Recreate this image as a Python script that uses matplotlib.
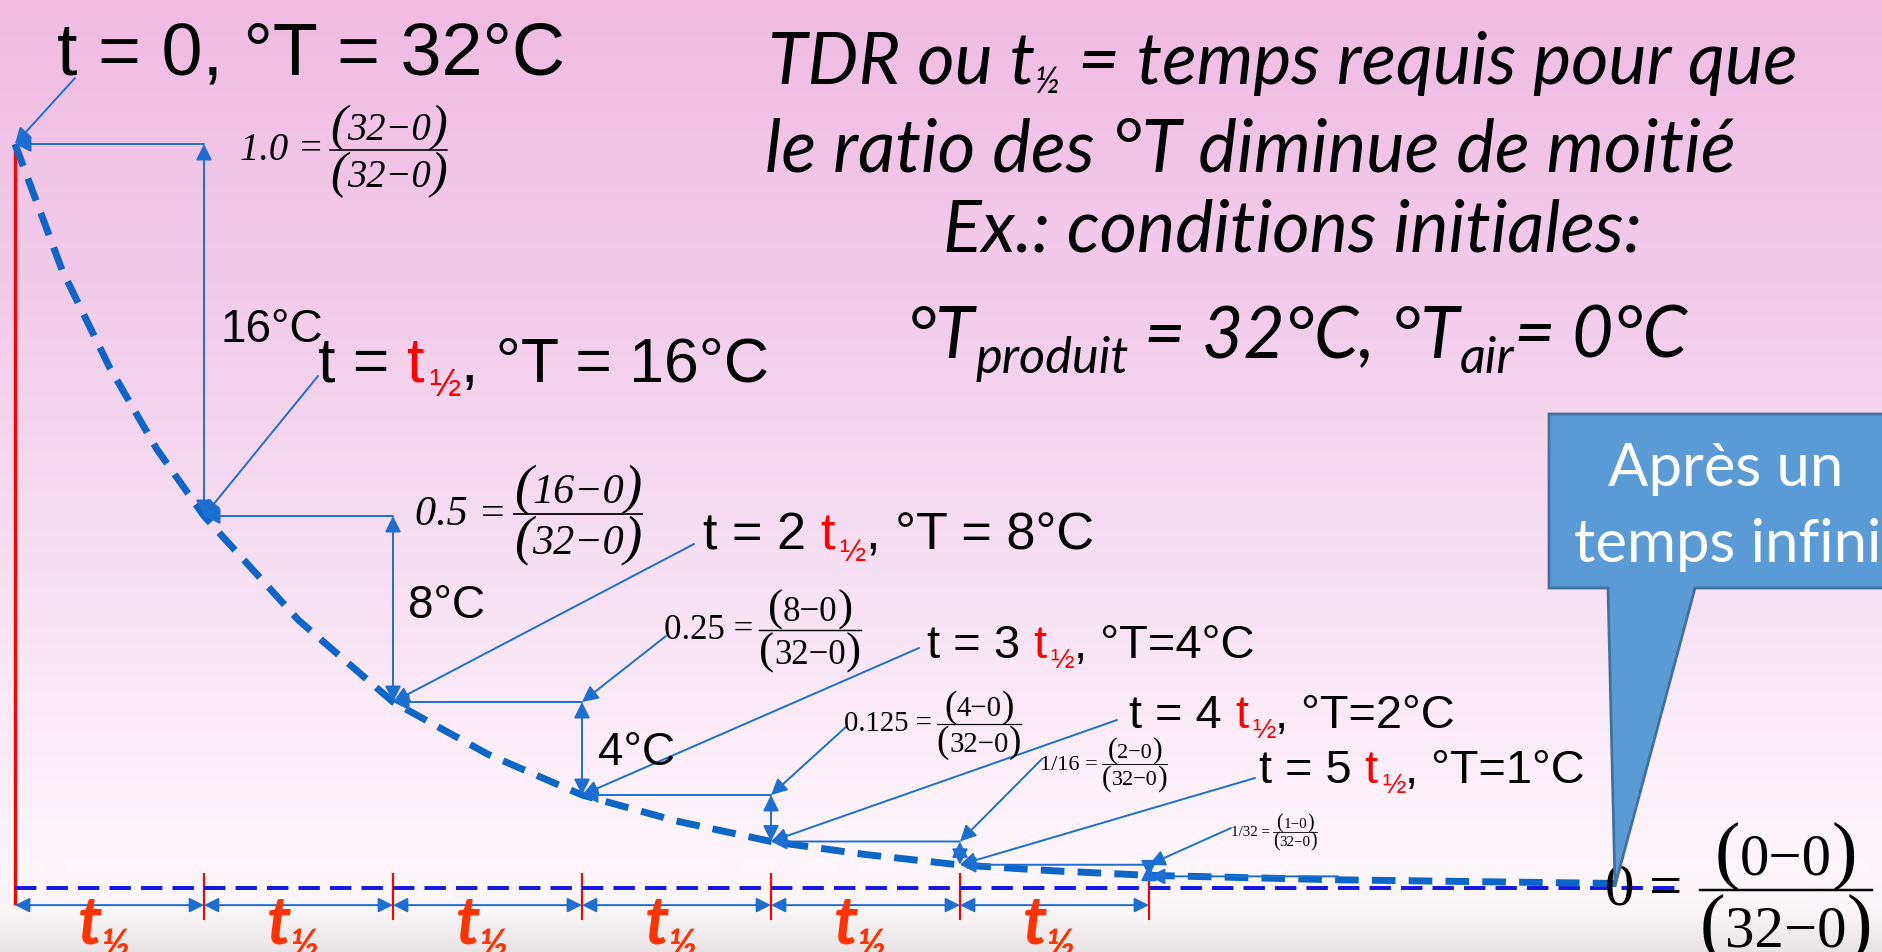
import numpy as np
import matplotlib
matplotlib.use('Agg')
import matplotlib.pyplot as plt
from matplotlib.patches import Polygon
from matplotlib.lines import Line2D
from matplotlib.transforms import IdentityTransform

W, H = 1883, 952

# ratio (T - Tair) / (T0 - Tair) after each half-life
steps = [0, 1, 2, 3, 4, 5, 6]
ratios = [1.0, 0.5, 0.25, 0.125, 1 / 16, 1 / 32, 1 / 64]
temps = [32, 16, 8, 4, 2, 1]
drops = ['16°C', '8°C', '4°C']
ratio_names = ['1.0', '0.5', '0.25', '0.125', '1/16', '1/32']

# dashed cooling curve, read along its length
curve_t = [0, 0.25, 0.5, 0.75, 1, 1.5, 2, 2.5, 3, 3.5, 4, 4.5, 5, 5.5, 6, 7, 8.5]
curve_v = [1.0, 0.83, 0.70, 0.59, 0.5, 0.36, 0.25, 0.18, 0.125, 0.09, 0.0625,
           0.045, 0.031, 0.023, 0.017, 0.011, 0.006]
air_line_end = 8.8

BLUE = '#1c6fd0'
RED = '#ff0000'
ORANGE = '#ff3300'
SANS = ['Liberation Sans', 'DejaVu Sans']
SERIF = ['Liberation Serif', 'DejaVu Serif']
CAL = ['Lato', 'DejaVu Sans']
PIX = IdentityTransform()

fig = plt.figure(figsize=(W / 100, H / 100), dpi=100)

# pink backdrop fading to white at the bottom
bg = fig.add_axes([0, 0, 1, 1], zorder=-1)
stops_y = [0, 300, 600, 860, 910, 952]
stops_c = np.array([[240, 188, 226], [243, 204, 234], [248, 226, 243],
                    [254, 246, 252], [250, 246, 248], [232, 228, 230]]) / 255
yy = np.arange(H)
grad = np.stack([np.interp(yy, stops_y, stops_c[:, k]) for k in range(3)], axis=-1)[:, None, :]
bg.imshow(grad, aspect='auto', extent=[0, 1, 0, 1], interpolation='bilinear')
bg.axis('off')

ax = fig.add_axes([0, 0, 1, 1])
ax.set_xlim(-15 / 189, (W - 15) / 189)
ax.set_ylim((888 - H) / 744, 888 / 744)
ax.axis('off')

TIME_ROW = -0.023


def fp(x, y):
    # figure pixels measured from the top
    return (x, H - y)


def arrow(tip, tail, style='-|>', coords='data', scale=24, lw=1.4):
    ax.annotate('', xy=tip, xytext=tail, textcoords=coords,
                arrowprops=dict(arrowstyle=style, color=BLUE, lw=lw,
                                mutation_scale=scale, shrinkA=0, shrinkB=0))


renderer = fig.canvas.get_renderer()


def text_width(s, size, **kw):
    t = fig.text(0, 0, s, fontsize=size, transform=PIX, **kw)
    w = t.get_window_extent(renderer).width
    t.remove()
    return w


def chain(x, y, pieces, width=None, center=False, **common):
    # lay text pieces side by side on one baseline (x, y in top-origin pixels)
    def build(scale):
        arts, ws = [], []
        for p in pieces:
            kw = dict(common)
            kw.update({k: v for k, v in p.items() if k not in ('s', 'size', 'dy', 'gap')})
            t = fig.text(0, 0, p['s'], fontsize=p['size'] * scale,
                         transform=PIX, va='baseline', ha='left', **kw)
            gap = p.get('gap', 0) * p['size'] * scale * 100 / 72
            arts.append((t, gap, p.get('dy', 0) * scale))
            ws.append(gap + t.get_window_extent(renderer).width)
        return arts, ws

    arts, ws = build(1.0)
    if width is not None:
        scale = width / sum(ws)
        for t, _, _ in arts:
            t.remove()
        arts, ws = build(scale)
    x0 = x - sum(ws) / 2 if center else x
    for (t, gap, dy), w in zip(arts, ws):
        t.set_position((x0 + gap, H - y - dy))
        x0 += w


def fraction(bar_left, bar_y, lead, num, den, width, italic=False, gap=0.17, k=1.3):
    # "lead = (num) / (den)" in a Times-like face with tall brackets
    kw = dict(family=SERIF, style='italic' if italic else 'normal')
    probe = 20
    wsum = (text_width('(', probe * k, **kw) + text_width(den, probe, **kw)
            + text_width(')', probe * k, **kw))
    size = probe * width / wsum
    em = size * 100 / 72
    yb = H - bar_y
    lift = (0.33 - 0.258 * k) * em
    xc = bar_left + width / 2
    for inner, base in ((num, yb + 0.27 * em), (den, yb - 0.96 * em)):
        parts = [('(', size * k, base + lift), (inner, size, base), (')', size * k, base + lift)]
        ws = [text_width(s, f, **kw) for s, f, _ in parts]
        x0 = xc - sum(ws) / 2
        for (s, f, b), w in zip(parts, ws):
            fig.text(x0, b, s, fontsize=f, transform=PIX, va='baseline', ha='left', **kw)
            x0 += w
    fig.add_artist(Line2D([bar_left, bar_left + width], [yb, yb], color='black',
                          lw=max(size / 24, 0.6), transform=PIX))
    fig.text(bar_left - gap * em, yb - 0.25 * em, lead + ' =', fontsize=size,
             transform=PIX, ha='right', va='baseline', **kw)


# time axis: left red line, half-life ticks and spans
ax.vlines(0, TIME_ROW, ratios[0], color=RED, lw=2.4, zorder=2)
ax.vlines(steps[1:], -0.043, 0.020, color=RED, lw=1.6, zorder=2)
for a, b in zip(steps[:-1], steps[1:]):
    arrow((b, TIME_ROW), (a, TIME_ROW), style='<|-|>', scale=22)

# air temperature line and cooling curve
ax.plot([0, air_line_end], [0, 0], color='#1414e6', lw=2.8,
        ls=(0, (5.5, 2.6)), zorder=2)
ax.plot(curve_t, curve_v, color='#0b66c8', lw=5.0, ls=(0, (3.4, 1.9)), zorder=3)

# staircase: horizontal back to the curve, vertical drop at the next half-life
for n, v in enumerate(ratios):
    arrow((steps[n], v), (steps[n] + 1, v))
for n in range(len(ratios) - 1):
    arrow((steps[n + 1], ratios[n + 1]), (steps[n + 1], ratios[n]), style='<|-|>')

# temperature drop labels
for s, (x, y) in zip(drops, [(220, 342), (408, 618), (598, 765)]):
    fig.text(x, H - y, s, transform=PIX, fontsize=33, family=SANS, va='baseline')

# "t = n t1/2, T = ..." labels with leader arrows
time_pos = [(57, 74), (318, 382), (703, 550), (927, 658), (1129, 728), (1259, 783)]
time_width = [507, 451, 390, 328, 326, 326]
time_size = [48, 44, 38, 34, 34, 34]
leader_from = [(75, 78), (318, 376), (694, 544), (919, 648), (1117, 720), (1255, 778)]
for n, T in enumerate(temps):
    size = time_size[n]
    if n == 0:
        pieces = [dict(s='t = 0, °T = %d°C' % T, size=size)]
    else:
        head = 't =' if n == 1 else 't = %d' % n
        tail = ', °T = %d°C' % T if n < 3 else ', °T=%d°C' % T
        pieces = [dict(s=head, size=size),
                  dict(s='t', size=size, color=RED, gap=0.28),
                  dict(s='½', size=size * 0.6, color=RED, gap=0.14, dy=size * 0.3),
                  dict(s=tail, size=size)]
    chain(*time_pos[n], pieces, width=time_width[n], family=SANS, color='black')
    arrow((steps[n], ratios[n]), fp(*leader_from[n]), coords='figure pixels')

# ratio fractions
frac_left = [330, 514, 759, 937, 1102, 1273]
frac_bar = [150, 514, 630, 724, 764, 832]
frac_width = [117, 128, 102, 84, 65, 44]
for n, name in enumerate(ratio_names):
    fraction(frac_left[n], frac_bar[n], name, '%d−0' % temps[n], '32−0',
             frac_width[n], italic=n < 2)
frac_leader = [(666, 636), (847, 726), (1042, 759), (1231, 828)]
for k, start in enumerate(frac_leader):
    n = k + 2
    arrow((steps[n + 1], ratios[n]), fp(*start), coords='figure pixels')

# half-life labels under the time axis
for a, b in zip(steps[:-1], steps[1:]):
    xm = ax.transData.transform(((a + b) / 2, 0))[0] - 6
    chain(xm, 943, [dict(s='t', size=48), dict(s='½', size=30, dy=16, gap=-0.04)],
          center=True, family=CAL, style='italic', weight='bold', color=ORANGE)

# heading
title_kw = dict(family=CAL, style='italic', color='black')
chain(1283, 84, [dict(s='TDR ou t', size=44), dict(s='½', size=22, dy=8),
                 dict(s='= temps requis pour que', size=44, gap=0.25)],
      width=1029, center=True, **title_kw)
chain(1250, 172, [dict(s='le ratio des °T diminue de moitié', size=44)],
      width=970, center=True, **title_kw)
chain(1292, 252, [dict(s='Ex.: conditions initiales:', size=44)],
      width=699, center=True, **title_kw)
chain(1297, 358, [dict(s='°T', size=48), dict(s='produit', size=34, dy=14),
                  dict(s='= 32°C, °T', size=48, gap=0.22), dict(s='air', size=34, dy=14),
                  dict(s='= 0°C', size=48)],
      width=780, center=True, **title_kw)

# callout pointing at the asymptote
callout = Polygon([fp(1549, 414), fp(1890, 414), fp(1890, 588), fp(1695, 588),
                   fp(1615, 886), fp(1608, 588), fp(1549, 588)],
                  closed=True, facecolor='#5b9bd5', edgecolor='#41719c', lw=2,
                  transform=PIX, zorder=4)
fig.add_artist(callout)
chain(1726, 486, [dict(s='Après un', size=43)], center=True, family=CAL, color='white', zorder=5)
chain(1728, 562, [dict(s='temps infini', size=43)], center=True, family=CAL, color='white', zorder=5)

fraction(1700, 890, '0', '0−0', '32−0', 172, gap=0.3)

fig.savefig('out.png', dpi=100)
